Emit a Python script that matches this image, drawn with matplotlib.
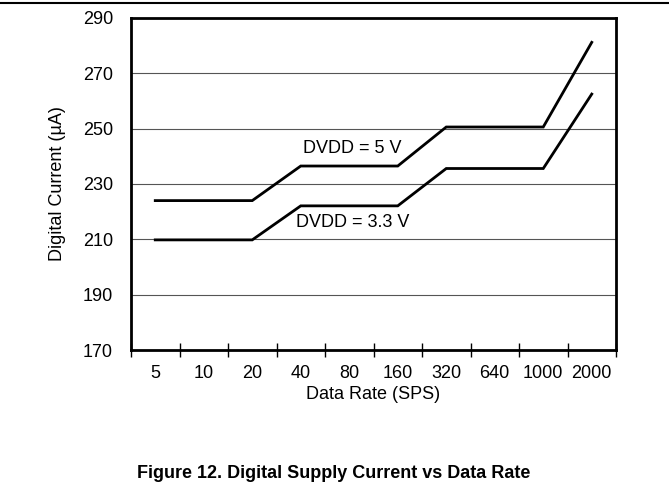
import matplotlib
matplotlib.use("Agg")
import matplotlib.pyplot as plt
from matplotlib.lines import Line2D

plt.rcParams['font.family'] = ['Liberation Sans', 'DejaVu Sans']

rates = ["5", "10", "20", "40", "80", "160", "320", "640", "1000", "2000"]
dvdd_5v = [224, 224, 224, 236.5, 236.5, 236.5, 250.6, 250.6, 250.6, 281.2]
dvdd_33v = [209.8, 209.8, 209.8, 222.1, 222.1, 222.1, 235.6, 235.6, 235.6, 262.5]
y_ticks = [170, 190, 210, 230, 250, 270, 290]

fs = 13

fig = plt.figure(figsize=(6.69, 4.93), dpi=100)
ax = fig.add_axes([131/669, 1-350/493, (616-131)/669, (350-18)/493])

xs = [i + 0.5 for i in range(len(rates))]
ax.plot(xs, dvdd_5v, color='black', lw=2.0, solid_joinstyle='miter')
ax.plot(xs, dvdd_33v, color='black', lw=2.0, solid_joinstyle='miter')

ax.set_xlim(0, len(rates))
ax.set_ylim(170, 290)
ax.set_yticks(y_ticks)
ax.set_yticklabels([str(v) for v in y_ticks], fontsize=fs)
ax.tick_params(axis='y', length=0, pad=13)
for v in y_ticks[1:-1]:
    ax.axhline(v, color='#555555', lw=0.8, zorder=0)

ax.set_xticks(range(len(rates) + 1))
ax.set_xticklabels([])
ax.set_xticks(xs, minor=True)
ax.set_xticklabels(rates, minor=True, fontsize=fs)
ax.tick_params(axis='x', which='major', direction='inout', length=10, width=1)
ax.tick_params(axis='x', which='minor', length=0, pad=11)

for s in ax.spines.values():
    s.set_linewidth(2)

ax.set_xlabel("Data Rate (SPS)", fontsize=fs, labelpad=3)
fig.text(57/669, 1 - 184/493, "Digital Current (\u00b5A)", fontsize=fs,
         rotation=90, ha='center', va='center')

ax.text(3.55, 243, "DVDD = 5 V", fontsize=fs, ha='left', va='center')
ax.text(3.4, 216, "DVDD = 3.3 V", fontsize=fs, ha='left', va='center')

fig.add_artist(Line2D([0, 1], [1 - 3/493, 1 - 3/493], color='black', lw=1.5, transform=fig.transFigure))
fig.text(334/669, 1 - 474/493, "Figure 12. Digital Supply Current vs Data Rate",
         ha='center', va='center', fontsize=fs, fontweight='bold')

fig.savefig("out.png", dpi=100)
